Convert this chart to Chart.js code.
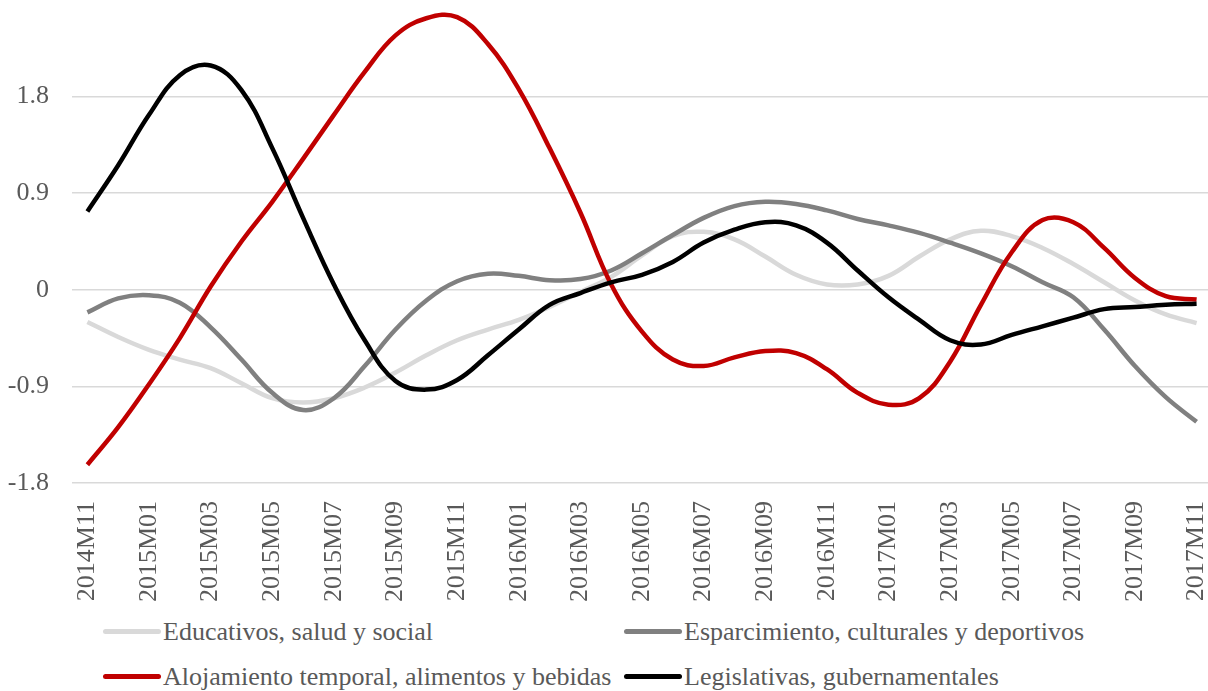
<!DOCTYPE html>
<html>
<head>
<meta charset="utf-8">
<script src="https://cdn.jsdelivr.net/npm/chart.js@4"></script>
<style>
    html, body { margin: 0; padding: 0; background: #fff; }
    #wrap { position: relative; width: 1208px; height: 691px; overflow: hidden; }
    #chartBox { position: absolute; left: 0; top: 0; width: 1212px; height: 612px; }
    .leg { position: absolute; height: 30px; line-height: 30px; font-family: 'Liberation Serif', serif;
           font-size: 26px; color: #595959; white-space: nowrap; }
    .leg i { position: absolute; left: 0; top: 12px; width: 58px; height: 5px; border-radius: 3px; }
    .leg span { position: absolute; left: 60px; top: 0; }
</style>
</head>
<body>
<div id="wrap">
    <div id="chartBox"><canvas id="lineChart"></canvas></div>
    <div id="legend"></div>
</div>
<script>
// Categories (monthly, 2014M11 - 2017M11)
const months = [
    '2014M11', '2014M12', '2015M01', '2015M02', '2015M03', '2015M04', '2015M05', '2015M06',
    '2015M07', '2015M08', '2015M09', '2015M10', '2015M11', '2015M12', '2016M01', '2016M02',
    '2016M03', '2016M04', '2016M05', '2016M06', '2016M07', '2016M08', '2016M09', '2016M10',
    '2016M11', '2016M12', '2017M01', '2017M02', '2017M03', '2017M04', '2017M05', '2017M06',
    '2017M07', '2017M08', '2017M09', '2017M10', '2017M11'
];

// Series values
const educativos = [-0.30, -0.44, -0.56, -0.65, -0.73, -0.87, -1.01, -1.05, -1.01, -0.91, -0.77, -0.61,
    -0.47, -0.37, -0.28, -0.16, -0.02, 0.12, 0.32, 0.50, 0.54, 0.47, 0.31, 0.14, 0.05, 0.05, 0.13,
    0.31, 0.47, 0.55, 0.50, 0.39, 0.24, 0.07, -0.10, -0.23, -0.31];
const esparcimiento = [-0.21, -0.08, -0.05, -0.12, -0.35, -0.65, -0.96, -1.12, -1.01, -0.71, -0.37, -0.10,
    0.08, 0.15, 0.13, 0.09, 0.10, 0.18, 0.34, 0.51, 0.67, 0.78, 0.82, 0.80, 0.74, 0.66, 0.60,
    0.53, 0.44, 0.34, 0.22, 0.07, -0.07, -0.37, -0.71, -1.00, -1.23];
const alojamiento = [-1.63, -1.28, -0.88, -0.45, 0.03, 0.45, 0.82, 1.22, 1.63, 2.03, 2.37, 2.53,
    2.54, 2.29, 1.87, 1.32, 0.72, 0.05, -0.39, -0.65, -0.71, -0.63, -0.57, -0.59, -0.74, -0.96, -1.07,
    -1.01, -0.67, -0.14, 0.35, 0.65, 0.63, 0.39, 0.11, -0.06, -0.09];
const legislativas = [0.73, 1.16, 1.63, 2.00, 2.09, 1.86, 1.32, 0.67, 0.05, -0.47, -0.85, -0.93,
    -0.84, -0.61, -0.37, -0.14, -0.03, 0.07, 0.14, 0.26, 0.44, 0.56, 0.63, 0.60, 0.44, 0.18, -0.07,
    -0.28, -0.47, -0.51, -0.42, -0.34, -0.26, -0.18, -0.16, -0.14, -0.13];

const seriesNames = [
    'Educativos, salud y social',
    'Esparcimiento, culturales y deportivos',
    'Alojamiento temporal, alimentos y bebidas',
    'Legislativas, gubernamentales'
];
const seriesColors = ['#d9d9d9', '#808080', '#c00000', '#000000'];

// Y axis range
const yMin = -1.8;
const yMax = 2.7;
const yStep = 0.9;

Chart.defaults.font.family = "'Liberation Serif', serif";
Chart.defaults.font.size = 26;
Chart.defaults.color = '#595959';

function makeDataset(i, values) {
    return {
        label: seriesNames[i],
        data: values,
        borderColor: seriesColors[i],
        backgroundColor: seriesColors[i],
        borderWidth: 4.5,
        pointRadius: 0,
        tension: 0.4,
        fill: false,
        order: 4 - i
    };
}

const ctx = document.getElementById('lineChart');
new Chart(ctx, {
    type: 'line',
    data: {
        labels: months,
        datasets: [
            makeDataset(0, educativos),
            makeDataset(1, esparcimiento),
            makeDataset(2, alojamiento),
            makeDataset(3, legislativas)
        ]
    },
    options: {
        responsive: true,
        maintainAspectRatio: false,
        animation: false,
        layout: {
            padding: { left: 8, right: 0, top: 0, bottom: 4 }
        },
        plugins: {
            legend: { display: false },
            tooltip: { enabled: false }
        },
        scales: {
            x: {
                offset: true,
                grid: { display: false },
                border: { display: false },
                ticks: {
                    autoSkip: false,
                    maxRotation: 90,
                    minRotation: 90,
                    padding: 10,
                    callback: function (value, index) {
                        return index % 2 === 0 ? months[index] : '';
                    }
                },
                afterFit: function (scale) {
                    scale.paddingLeft = 0;
                    scale.paddingRight = 0;
                    scale.height = 125;
                }
            },
            y: {
                min: yMin,
                max: yMax,
                border: { display: false },
                grid: {
                    drawTicks: false,
                    lineWidth: 1.5,
                    color: function (c) {
                        return c.tick && c.tick.value > yMax - 0.01 ? 'rgba(0,0,0,0)' : '#d9d9d9';
                    }
                },
                ticks: {
                    stepSize: yStep,
                    padding: 23,
                    callback: function (value) {
                        if (value > yMax - 0.01) return '';
                        if (Math.abs(value) < 1e-9) return '0';
                        return value.toFixed(1);
                    }
                },
                afterFit: function (scale) {
                    scale.paddingTop = 0;
                    scale.paddingBottom = 0;
                    scale.width = 64;
                }
            }
        }
    }
});

// Legend in two columns, two rows
const legendPos = [[103, 617], [624, 617], [103, 662], [624, 662]];
const legendBox = document.getElementById('legend');
seriesNames.forEach((name, i) => {
    const item = document.createElement('div');
    item.className = 'leg';
    item.style.left = legendPos[i][0] + 'px';
    item.style.top = legendPos[i][1] + 'px';
    item.innerHTML = `<i style="background:${seriesColors[i]}"></i><span>${name}</span>`;
    legendBox.appendChild(item);
});
</script>
</body>
</html>
